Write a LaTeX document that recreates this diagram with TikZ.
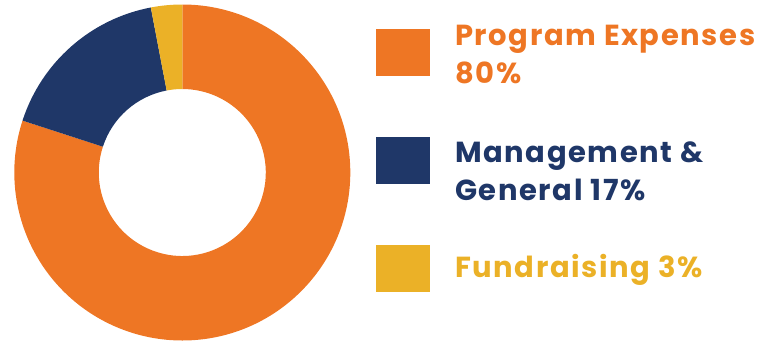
\documentclass[tikz,border=0pt]{standalone}
\usepackage{fontspec}
\setmainfont{Poppins}
\newfontfamily\legfont[LetterSpace=5.5]{Poppins}
\definecolor{porange}{HTML}{EE7624}
\definecolor{pnavy}{HTML}{1F3768}
\definecolor{pyellow}{HTML}{EBB127}
\begin{document}
\begin{tikzpicture}[x=1pt,y=-1pt,
  legtext/.style={anchor=base west,inner sep=0pt,font=\legfont\fontsize{29}{32}\selectfont\bfseries},
  legbox/.style={draw=none}]
\useasboundingbox (0,0) rectangle (772,341);
\coordinate (c) at (182.3,172.5);
\def\Ro{168}\def\Ri{83.5}
\fill[porange] ([shift={(-90:\Ro)}]c) arc[start angle=-90,end angle=198,radius=\Ro]
  -- ([shift={(198:\Ri)}]c) arc[start angle=198,end angle=-90,radius=\Ri] -- cycle;
\fill[pnavy] ([shift={(198:\Ro)}]c) arc[start angle=198,end angle=259.2,radius=\Ro]
  -- ([shift={(259.2:\Ri)}]c) arc[start angle=259.2,end angle=198,radius=\Ri] -- cycle;
\fill[pyellow] ([shift={(259.2:\Ro)}]c) arc[start angle=259.2,end angle=270,radius=\Ro]
  -- ([shift={(270:\Ri)}]c) arc[start angle=270,end angle=259.2,radius=\Ri] -- cycle;
\fill[porange] (376,29) rectangle (430,76);
\fill[pnavy] (376,137) rectangle (430,184);
\fill[pyellow] (376,245) rectangle (430,291.5);
\node[legtext,text=porange] (t1) at (455,45.7) {Program Expenses};
\node[legtext,text=porange] (t2) at (455,83.3) {80\%};
\node[legtext,text=pnavy] (t3) at (455,162) {Management \&};
\node[legtext,text=pnavy] (t4) at (455,200) {General 17\%};
\node[legtext,text=pyellow] (t5) at (455,277.3) {Fundraising 3\%};
\end{tikzpicture}
\end{document}
